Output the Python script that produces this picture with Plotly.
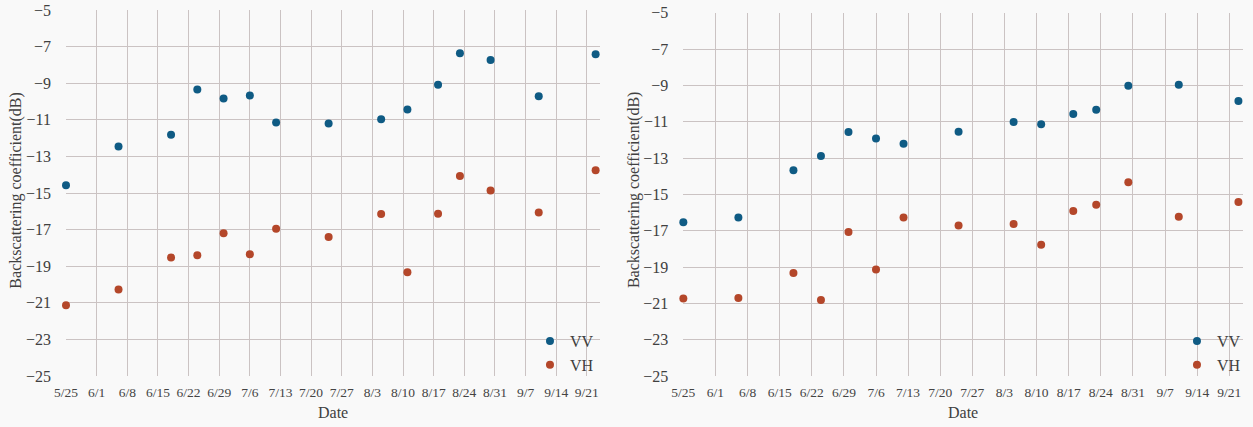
import plotly.graph_objects as go

# ---- data ----
dates = ["2021-05-25", "2021-06-06", "2021-06-18", "2021-06-24", "2021-06-30",
         "2021-07-06", "2021-07-12", "2021-07-24", "2021-08-05", "2021-08-11",
         "2021-08-18", "2021-08-23", "2021-08-30", "2021-09-10", "2021-09-23"]
left_vv = [-14.58, -12.46, -11.82, -9.35, -9.84, -9.67, -11.15, -11.20, -10.97,
           -10.44, -9.09, -7.36, -7.73, -9.71, -7.42]
left_vh = [-21.13, -20.27, -18.53, -18.40, -17.20, -18.35, -16.96, -17.40, -16.15,
           -19.33, -16.13, -14.07, -14.87, -16.07, -13.75]
right_vv = [-16.54, -16.28, -13.67, -12.89, -11.57, -11.93, -12.21, -11.55, -11.02,
            -11.14, -10.58, -10.34, -9.02, -8.96, -9.86]
right_vh = [-20.74, -20.70, -19.33, -20.81, -17.07, -19.14, -16.28, -16.72, -16.63,
            -17.78, -15.91, -15.57, -14.33, -16.23, -15.42]
tick_dates = ["2021-05-25", "2021-06-01", "2021-06-08", "2021-06-15", "2021-06-22",
              "2021-06-29", "2021-07-06", "2021-07-13", "2021-07-20", "2021-07-27",
              "2021-08-03", "2021-08-10", "2021-08-17", "2021-08-24", "2021-08-31",
              "2021-09-07", "2021-09-14", "2021-09-21"]
tick_labels = ["5/25", "6/1", "6/8", "6/15", "6/22", "6/29", "7/6", "7/13", "7/20",
               "7/27", "8/3", "8/10", "8/17", "8/24", "8/31", "9/7", "9/14", "9/21"]
y_ticks = [-25, -23, -21, -19, -17, -15, -13, -11, -9, -7, -5]
series_names = ["VV", "VH"]

VV_COLOR = "#0f5b84"
VH_COLOR = "#b4472a"
GRID = "#cbc3c3"
FONT = "Liberation Serif, Times New Roman, serif"
BG = "#f9f9f9"

fig = go.Figure()
panels = [("x", "y", "legend", left_vv, left_vh),
          ("x2", "y2", "legend2", right_vv, right_vh)]
for xa, ya, lg, vv, vh in panels:
    for name, vals, col in [(series_names[0], vv, VV_COLOR), (series_names[1], vh, VH_COLOR)]:
        fig.add_trace(go.Scatter(
            x=dates, y=vals, mode="markers", name=name, xaxis=xa, yaxis=ya,
            legend=lg, cliponaxis=False,
            marker=dict(color=col, size=8, line=dict(width=0)),
        ))

xcommon = dict(type="date", range=["2021-05-25", "2021-09-24"],
               tickvals=tick_dates, ticktext=tick_labels, automargin=False,
               showgrid=True, gridcolor=GRID, gridwidth=1.4,
               showline=False, zeroline=False, ticks="",
               ticklabelstandoff=6,
               tickfont=dict(family=FONT, size=13.5, color="#444444"))
ycommon = dict(range=[-25, -5], tickvals=y_ticks, automargin=False,
               showgrid=True, gridcolor=GRID, gridwidth=1.4,
               showline=False, zeroline=False, ticks="",
               ticklabelstandoff=14,
               tickfont=dict(family=FONT, size=16, color="#404040"))

legend_style = dict(xanchor="left", yanchor="top", bgcolor="rgba(0,0,0,0)",
                    font=dict(family=FONT, size=16, color="#404040"), tracegroupgap=0)

fig.update_layout(
    width=1253, height=427,
    margin=dict(l=66, r=10, t=10, b=51, autoexpand=False),
    paper_bgcolor=BG, plot_bgcolor=BG,
    font=dict(family=FONT, color="#404040"),
    xaxis=dict(domain=[0, 0.4537], anchor="y", **xcommon),
    xaxis2=dict(domain=[0.5245, 1.0], anchor="y2", **xcommon),
    yaxis=dict(domain=[0, 1.0], anchor="x", **ycommon),
    yaxis2=dict(domain=[0, 0.9926], anchor="x2", **ycommon),
    legend=dict(x=0.3942, y=0.142, **legend_style),
    legend2=dict(x=0.9439, y=0.142, **legend_style),
    annotations=[
        dict(text="Backscattering coefficient(dB)", xref="paper", yref="paper",
             x=-0.042, y=0.508, xanchor="center", yanchor="middle", textangle=-90,
             showarrow=False, font=dict(family=FONT, size=16, color="#404040")),
        dict(text="Backscattering coefficient(dB)", xref="paper", yref="paper",
             x=0.4826, y=0.508, xanchor="center", yanchor="middle", textangle=-90,
             showarrow=False, font=dict(family=FONT, size=16, color="#404040")),
        dict(text="Date", xref="paper", yref="paper", x=0.2268, y=-0.0984,
             xanchor="center", yanchor="middle", showarrow=False,
             font=dict(family=FONT, size=16, color="#404040")),
        dict(text="Date", xref="paper", yref="paper", x=0.7624, y=-0.0984,
             xanchor="center", yanchor="middle", showarrow=False,
             font=dict(family=FONT, size=16, color="#404040")),
    ],
)

fig.write_html("out.html", config={"displayModeBar": False},
               post_script="document.body.style.margin='0';document.body.style.overflow='hidden';")
